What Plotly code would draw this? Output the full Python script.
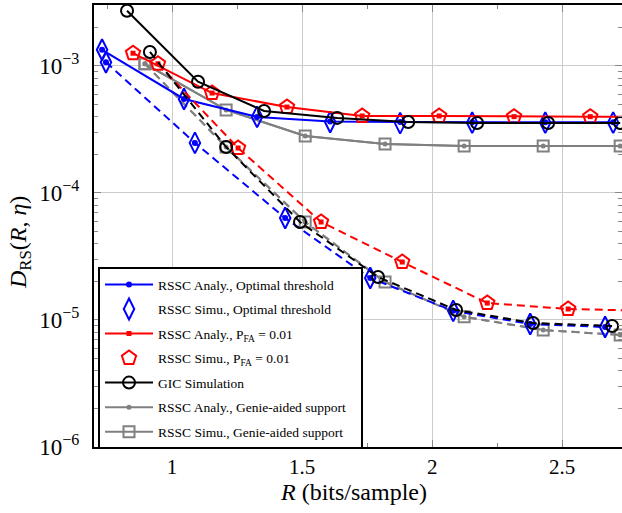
import plotly.graph_objects as go

# ---------------- data ----------------
# Optimal threshold, upper (solid) curve
R_opt_a = [0.731, 1.046, 1.327, 1.608, 1.877, 2.154, 2.435, 2.696]
D_opt_a = [1.34e-3, 5.50e-4, 3.97e-4, 3.65e-4, 3.62e-4, 3.60e-4, 3.60e-4, 3.60e-4]
D_opt_a_sim = [1.34e-3, 5.50e-4, 3.97e-4, 3.62e-4, 3.55e-4, 3.58e-4, 3.58e-4, 3.58e-4]
# Optimal threshold, lower (dashed) curve
R_opt_b = [0.746, 1.088, 1.435, 1.762, 2.081, 2.377, 2.665]
D_opt_b = [1.07e-3, 2.48e-4, 6.36e-5, 2.14e-5, 1.18e-5, 9.3e-6, 8.8e-6]
D_opt_b_sim = [1.07e-3, 2.48e-4, 6.36e-5, 2.14e-5, 1.18e-5, 9.3e-6, 8.8e-6]

# P_FA = 0.01, upper (solid) curve
R_pfa_a = [0.850, 1.154, 1.442, 1.731, 2.027, 2.315, 2.608, 2.900]
D_pfa_a = [1.26e-3, 6.12e-4, 4.75e-4, 4.04e-4, 4.04e-4, 3.99e-4, 3.99e-4, 3.99e-4]
# P_FA = 0.01, lower (dashed) curve
R_pfa_b = [0.946, 1.254, 1.573, 1.885, 2.212, 2.523, 2.840]
D_pfa_b = [1.04e-3, 2.26e-4, 5.91e-5, 2.86e-5, 1.36e-5, 1.22e-5, 1.18e-5]

# GIC simulation
R_gic_a = [0.827, 1.100, 1.354, 1.635, 1.908, 2.173, 2.446, 2.723]
D_gic_a = [2.72e-3, 7.52e-4, 4.42e-4, 3.90e-4, 3.62e-4, 3.56e-4, 3.56e-4, 3.56e-4]
R_gic_b = [0.915, 1.208, 1.492, 1.792, 2.092, 2.388, 2.692]
D_gic_b = [1.29e-3, 2.30e-4, 5.91e-5, 2.18e-5, 1.20e-5, 9.46e-6, 8.97e-6]

# Genie-aided support
R_gen = [0.896, 1.208, 1.512, 1.819, 2.123, 2.427, 2.723]
D_gen_a = [1.04e-3, 4.51e-4, 2.81e-4, 2.43e-4, 2.34e-4, 2.34e-4, 2.34e-4]
D_gen_b = [1.04e-3, 2.30e-4, 5.91e-5, 1.99e-5, 1.06e-5, 8.34e-6, 7.62e-6]

x_ticks = [1, 1.5, 2, 2.5]
x_ticktext = ["1", "1.5", "2", "2.5"]
y_ticks = [1e-6, 1e-5, 1e-4, 1e-3]
y_ticktext = ["10<sup>\u22126</sup>", "10<sup>\u22125</sup>", "10<sup>\u22124</sup>", "10<sup>\u22123</sup>"]

names = [
    "RSSC Analy., Optimal threshold",
    "RSSC Simu., Optimal threshold",
    "RSSC Analy., P<sub>FA</sub> = 0.01",
    "RSSC Simu., P<sub>FA</sub> = 0.01",
    "GIC Simulation",
    "RSSC Analy., Genie-aided support\u00a0\u00a0\u00a0",
    "RSSC Simu., Genie-aided support",
]

BLUE = "#0000ff"
RED = "#ff0000"
BLACK = "#000000"
GRAY = "#808080"
DASH = "8px,5px"
FONT = "'Liberation Serif', 'Times New Roman', serif"

fig = go.Figure()


def add(x, y, name, rank, color, dash, mode, symbol, size, show):
    fig.add_trace(go.Scatter(
        x=x, y=y, name=name, mode=mode,
        legendgroup=name, showlegend=show, legendrank=rank,
        line=dict(color=color, width=2, dash=dash),
        marker=dict(symbol=symbol, size=size, color=color,
                    line=dict(color=color, width=2 if symbol.endswith("open") else 0)),
    ))


# gray genie-aided
add(R_gen, D_gen_a, names[5], 6, GRAY, "solid", "lines+markers", "circle", 5, True)
add(R_gen, D_gen_b, names[5], 6, GRAY, DASH, "lines+markers", "circle", 5, False)
add(R_gen, D_gen_a, names[6], 7, GRAY, "solid", "lines+markers", "square-open", 11, True)
add(R_gen, D_gen_b, names[6], 7, GRAY, DASH, "lines+markers", "square-open", 11, False)
# blue optimal threshold
add(R_opt_a, D_opt_a, names[0], 1, BLUE, "solid", "lines+markers", "circle", 6, True)
add(R_opt_b, D_opt_b, names[0], 1, BLUE, DASH, "lines+markers", "circle", 6, False)
add(R_opt_a, D_opt_a_sim, names[1], 2, BLUE, "solid", "markers", "diamond-tall-open", 15, True)
add(R_opt_b, D_opt_b_sim, names[1], 2, BLUE, "solid", "markers", "diamond-tall-open", 15, False)
# red P_FA
add(R_pfa_a, D_pfa_a, names[2], 3, RED, "solid", "lines+markers", "square", 5, True)
add(R_pfa_b, D_pfa_b, names[2], 3, RED, DASH, "lines+markers", "square", 5, False)
add(R_pfa_a, D_pfa_a, names[3], 4, RED, "solid", "markers", "pentagon-open", 15, True)
add(R_pfa_b, D_pfa_b, names[3], 4, RED, "solid", "markers", "pentagon-open", 15, False)
# black GIC
add(R_gic_a, D_gic_a, names[4], 5, BLACK, "solid", "lines+markers", "circle-open", 12, True)
add(R_gic_b, D_gic_b, names[4], 5, BLACK, DASH, "lines+markers", "circle-open", 12, False)

# empty trace so the right-hand tick axis (no border line) is drawn
fig.add_trace(go.Scatter(x=[], y=[], yaxis="y2", showlegend=False, hoverinfo="skip"))

minor_y = [m * 10 ** e for e in range(-6, -2) for m in range(2, 10)]

fig.update_layout(
    width=622, height=513,
    margin=dict(l=94, r=0, t=5, b=66),
    paper_bgcolor="white", plot_bgcolor="white",
    font=dict(family=FONT, color="black"),
    legend=dict(
        x=0.0076, y=0.407, xanchor="left", yanchor="top",
        bgcolor="white", bordercolor="black", borderwidth=2,
        font=dict(family=FONT, size=13.5, color="black"),
        itemwidth=48, tracegroupgap=4, traceorder="grouped",
    ),
    xaxis=dict(
        range=[0.7, 2.73], tickvals=x_ticks, ticktext=x_ticktext, automargin=False,
        ticks="inside", ticklen=7, tickcolor="#888", tickwidth=1,
        showline=True, linecolor="black", linewidth=2, mirror="ticks",
        showgrid=True, gridcolor="#cccccc", gridwidth=1, zeroline=False,
        tickfont=dict(family=FONT, size=21),
        minor=dict(tickvals=[0.75, 1.25, 1.75, 2.25], ticks="inside", ticklen=4,
                   tickcolor="#888", showgrid=False),
    ),
    yaxis=dict(
        type="log", range=[-6, -2.52], tickvals=y_ticks, ticktext=y_ticktext, automargin=False,
        ticks="inside", ticklen=7, tickcolor="#888", tickwidth=1, ticklabelstandoff=8,
        showline=True, linecolor="black", linewidth=2, mirror=False,
        showgrid=True, gridcolor="#cccccc", gridwidth=1, zeroline=False,
        tickfont=dict(family=FONT, size=23),
        minor=dict(tickvals=minor_y, ticks="inside", ticklen=4,
                   tickcolor="#888", showgrid=False),
    ),
    yaxis2=dict(
        type="log", range=[-6, -2.52], overlaying="y", side="right", automargin=False,
        tickvals=y_ticks, showticklabels=False, ticks="inside", ticklen=7,
        tickcolor="#888", tickwidth=1, showline=False, showgrid=False, zeroline=False,
        minor=dict(tickvals=minor_y, ticks="inside", ticklen=4,
                   tickcolor="#888", showgrid=False),
    ),
)

fig.add_annotation(
    text="<i>R</i> (bits/sample)", xref="paper", yref="paper",
    x=0.4915, y=-0.1018, xanchor="center", yanchor="middle",
    showarrow=False, font=dict(family=FONT, size=24, color="black"),
)
fig.add_annotation(
    text="<i>D</i><sub>RS</sub>(<i>R</i>, <i>\u03b7</i>)", xref="paper", yref="paper",
    x=-0.140, y=0.4615, xanchor="center", yanchor="middle", textangle=-90,
    showarrow=False, font=dict(family=FONT, size=24, color="black"),
)

fig.write_html(
    "out.html",
    config={"displayModeBar": False},
    post_script="document.body.style.margin='0';document.body.style.overflow='hidden';",
)
